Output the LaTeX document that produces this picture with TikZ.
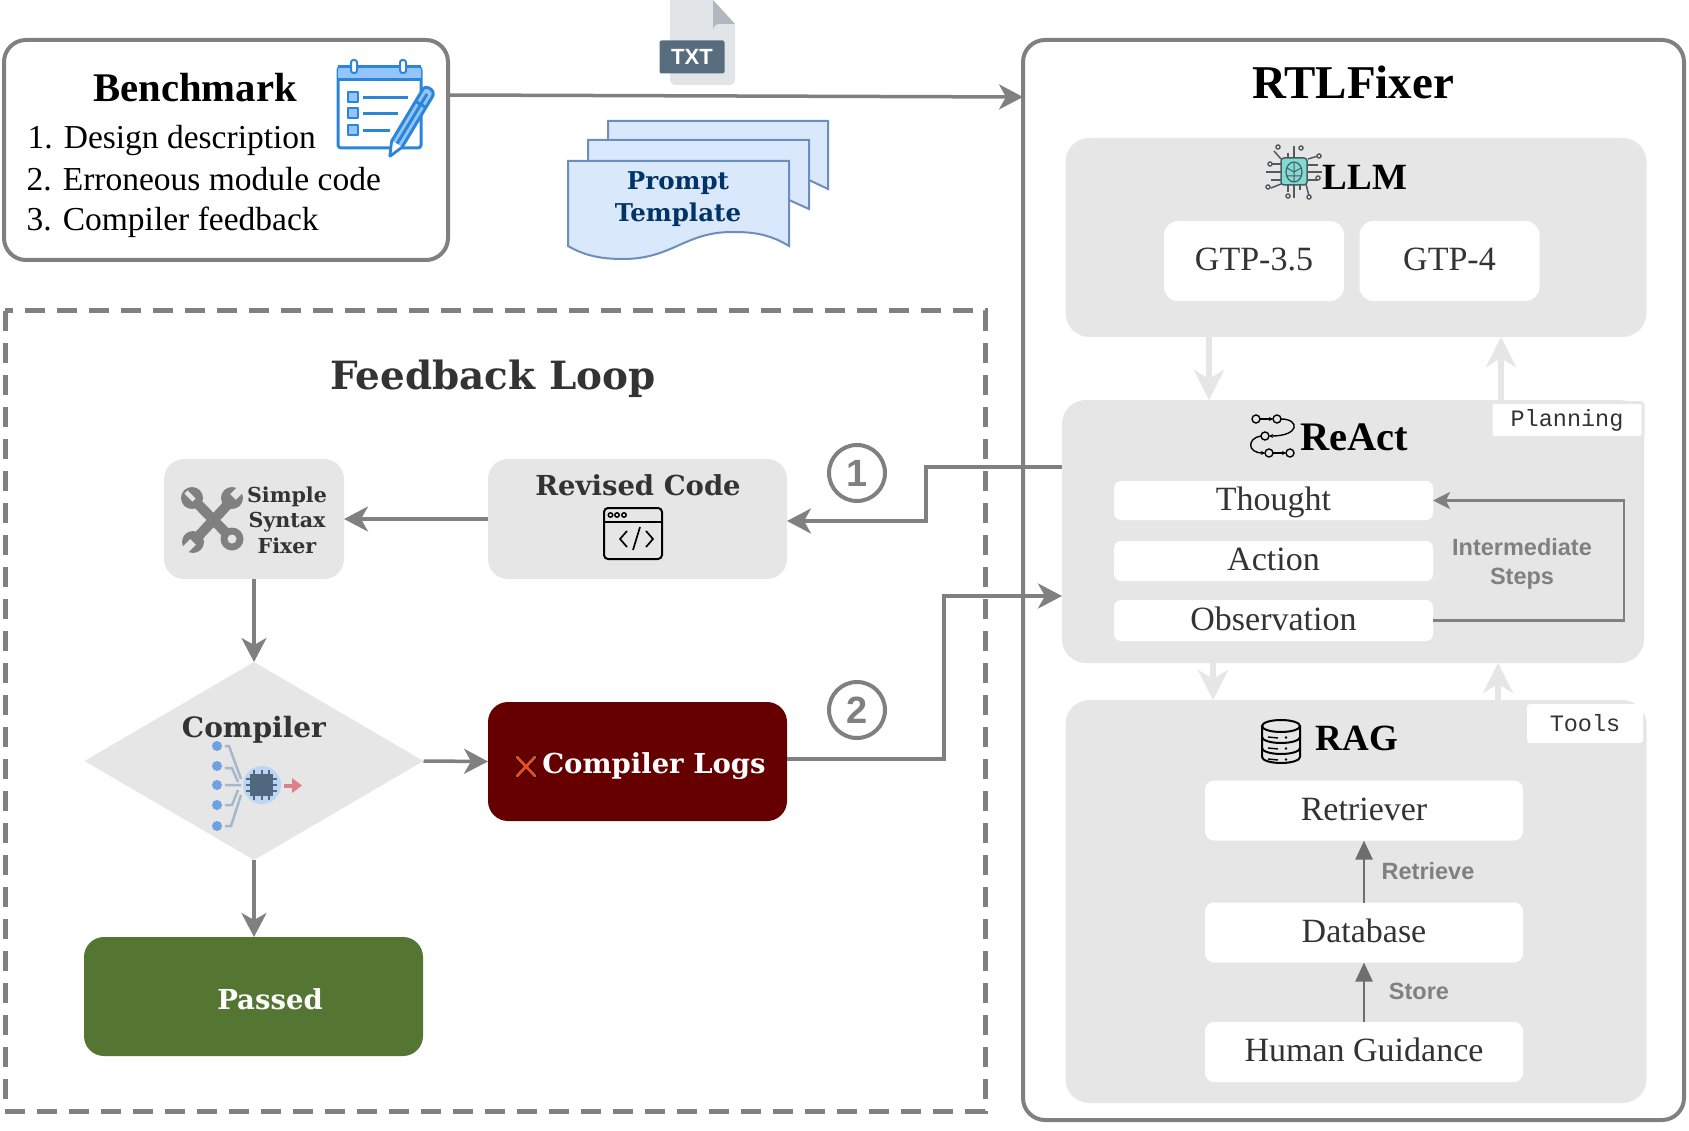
\documentclass[tikz,border=0pt]{standalone}
\usepackage{fontspec}
\setmainfont{Liberation Serif}
\setsansfont{Liberation Sans}
\setmonofont{Liberation Mono}
\newfontfamily\widefont{DejaVu Serif}
\usetikzlibrary{arrows.meta,shapes.geometric,calc}
\definecolor{ln}{HTML}{808080}
\definecolor{pan}{HTML}{E6E6E6}
\definecolor{txt}{HTML}{333333}
\definecolor{blu}{HTML}{2B85D8}
\definecolor{lblu}{HTML}{93C5FB}
\definecolor{HTMLa}{HTML}{DAE8FC}
\definecolor{HTMLb}{HTML}{6C8EBF}
\definecolor{HTMLc}{HTML}{E2E5E7}
\definecolor{HTMLd}{HTML}{B0B7BD}
\definecolor{HTMLe}{HTML}{576D7E}
\definecolor{HTMLf}{HTML}{003366}
\definecolor{HTMLg}{HTML}{6FA0E0}
\definecolor{HTMLh}{HTML}{A6B6CC}
\definecolor{HTMLi}{HTML}{BBD5F2}
\definecolor{HTMLj}{HTML}{4F6880}
\definecolor{HTMLk}{HTML}{E07F8C}
\definecolor{HTMLl}{HTML}{660000}
\definecolor{HTMLm}{HTML}{F0491F}
\definecolor{HTMLn}{HTML}{557533}
\definecolor{HTMLo}{HTML}{4F5B5E}
\definecolor{HTMLp}{HTML}{80DCD3}
\definecolor{HTMLq}{HTML}{6E6E6E}
\newcommand{\fsz}[2]{\fontsize{#1}{#2}\selectfont}
\tikzset{
  box/.style={rectangle,rounded corners=#1,inner sep=0pt,outer sep=0pt},
  panel/.style={box=24pt,fill=pan},
  greybox/.style={box=20pt,fill=pan},
  whitebox/.style={box=7pt,fill=white,text=txt,font=\fsz{34}{38},text height=24pt,text depth=5pt},
  tag/.style={box=3pt,fill=white,font=\ttfamily\fsz{23.5}{28},text=txt},
  outer/.style={box=22pt,draw=ln,line width=4pt,fill=white},
  flow/.style={draw=ln,line width=3.5pt,-{Stealth[length=24pt,width=25pt,inset=7pt]}},
  thin flow/.style={draw=ln,line width=2.5pt,-{Stealth[length=17pt,width=17pt,inset=4pt]}},
  pale flow/.style={draw=pan,line width=6pt,-{Stealth[length=30pt,width=30pt,inset=9pt]}},
  rag flow/.style={draw=#1,line width=2.5pt,-{Stealth[length=19pt,width=17pt,inset=0pt]}},
  wide/.style={font=\widefont\bfseries\fsz{#1}{#1},text=txt},
  head/.style={font=\bfseries\fsz{#1}{#1},text=black},
  note/.style={font=\sffamily\bfseries\fsz{23.5}{29},text=ln,align=center},
  num/.style={circle,draw=ln,line width=4pt,minimum size=56pt,inner sep=0pt,text=ln,font=\sffamily\bfseries\fsz{38}{38}},
  docs/.style={draw=HTMLb,fill=HTMLa,line width=2pt,line join=miter},
}
\begin{document}
\begin{tikzpicture}[x=1pt,y=-1pt]
\useasboundingbox (0,0) rectangle (1689,1131);
% Benchmark
\node[outer,minimum width=444pt,minimum height=220pt] (bench) at (226,150) {};
\node[head=40.7,anchor=base] (btitle) at (195,102) {Benchmark};
\node[font=\fsz{33.5}{38},anchor=base west] (b1) at (24,149) {1. Design description};
\node[font=\fsz{33.5}{38},anchor=base west] (b2) at (23,191) {2. Erroneous module code};
\node[font=\fsz{33.5}{38},anchor=base west] (b3) at (23,231) {3. Compiler feedback};
% notebook icon
\begin{scope}[line join=round]
\draw[blu,line width=3pt,fill=white,rounded corners=3pt] (338,67) rectangle (421,148);
\fill[lblu,rounded corners=3pt] (338,67) rectangle (421,80);
\draw[blu,line width=3pt] (338,67) -- (421,67) (338,80) -- (421,80);
\draw[blu,line width=2pt,fill=white,rounded corners=2.5pt] (351,60) rectangle (357,73);
\draw[blu,line width=2pt,fill=white,rounded corners=2.5pt] (400,60) rectangle (406,73);
\foreach \y/\e in {92/408,108/398,125/390}{
  \draw[blu,line width=2pt,fill=lblu] (347.5,\y) rectangle (358,\y+10);
  \draw[blu,line width=3pt] (363,\y+5.5) -- (\e,\y+5.5);
}
\draw[blu,line width=3pt,fill=lblu] (432.2,97) -- (402.2,146.9) -- (390,156) -- (391.8,140.9) -- (421.8,91) .. controls (424,83) and (437,90) .. cycle;
\draw[blu,line width=3pt] (425.2,107) -- (414.8,101) (427,94) -- (397,143.9);
\fill[white] (402.2,146.9) -- (390,156) -- (391.8,140.9) -- cycle;
\draw[blu,line width=2.5pt] (402.2,146.9) -- (390,156) -- (391.8,140.9);
\end{scope}
% TXT icon
\fill[HTMLc] (670,0) -- (713,0) -- (735,24) -- (735,80) arc (0:90:5) -- (675,85) arc (90:180:5) -- cycle;
\fill[HTMLd] (713,0) -- (735,24) -- (719,24) arc (270:180:6) -- cycle;
\node[box=2pt,fill=HTMLe,minimum width=65pt,minimum height=33pt,text=white,font=\sffamily\bfseries\fsz{22}{24}] (txticon) at (692,57) {TXT};
% Prompt template
\draw[docs] (608,121) -- (828,121) -- (828,189) -- (809,180) -- (608,180) -- cycle;
\draw[docs] (588,140) -- (809,140) -- (809,209) -- (789,200) -- (588,200) -- cycle;
\draw[docs] (568,161) -- (789,161) -- (789,246) .. controls (768,233) and (750,232) .. (732,232) .. controls (685,232) and (672,259) .. (623,259) .. controls (602,259) and (585,256) .. (568,246) -- cycle;
\node[font=\widefont\bfseries\fsz{24.5}{32},text=HTMLf,align=center,anchor=base] (prompt) at (678,222) {Prompt\\Template};
% Feedback loop
\draw[draw=ln,line width=5pt,dash pattern=on 20pt off 12pt] (5,311) rectangle (985,1111);
\node[wide=38.9,anchor=base] (fbtitle) at (493,389) {Feedback Loop};
\node[greybox,minimum width=180pt,minimum height=120pt] (fixer) at (254,519) {};
\node[greybox,minimum width=299pt,minimum height=120pt] (revised) at (637.5,519) {};
\node[wide=27.5,anchor=base] (revt) at (638,495) {Revised Code};
% browser icon
\draw[black,line width=2pt,rounded corners=4pt] (604,508) rectangle (662,559);
\draw[black,line width=2pt] (604,522) -- (662,522);
\foreach \x in {608.5,615,622}{\draw[black,line width=1.5pt] (\x+2,515) circle (2.2pt);}
\draw[black,line width=1.7pt] (627,531) -- (620,539) -- (627,547) (640,527) -- (633,550) (646,531) -- (653,539) -- (646,547);
% wrench icon
\begin{scope}[ln]
\draw[line width=10pt] (196,502) -- (232,539);
\fill (232,539) circle (11.5pt);
\fill (192,498) circle (11pt);
\fill[pan] (232,539) circle (4.5pt);
\draw[pan,line width=4.5pt] (194,500) -- (186,492);
\draw[line width=10pt] (232,500) -- (194,541);
\fill (232,498) circle (11pt);
\fill (193,542) circle (11pt);
\draw[pan,line width=8pt] (233,497) -- (241,489);
\draw[pan,line width=8pt] (193,542) -- (185,550);
\end{scope}
\node[font=\widefont\bfseries\fsz{20.6}{25.5},text=txt,align=center,anchor=base] (fixt) at (287,553) {Simple\\Syntax\\Fixer};
\node[diamond,fill=pan,inner sep=0pt,outer sep=0pt,minimum width=339pt,minimum height=198pt,aspect=1.712] (comp) at (254,761) {};
\node[wide=28,anchor=base] (compt) at (254,737) {Compiler};
% chip icon
\begin{scope}
\foreach \y in {746,766,785,805,826}{\fill[HTMLg] (217,\y) circle (5pt);}
\draw[HTMLh,line width=2.5pt] (225,746) -- (229,746) -- (241,779) (225,768) -- (232,768) -- (238,782) (225,785) -- (241,785) (225,805) -- (232,805) -- (238,790) (225,826) -- (231,826) -- (241,795);
\fill[HTMLi] (262,785) circle (19pt);
\fill[HTMLj] (250,774) rectangle (273,796);
\draw[HTMLj,line width=1.2pt] (254,770) -- (254,800) (262,770) -- (262,800) (269,770) -- (269,800) (246,779) -- (277,779) (246,785) -- (277,785) (246,791) -- (277,791);
\fill[HTMLk] (284,783.5) rectangle (293,787.5);
\fill[HTMLk] (292,778) -- (302,785.5) -- (292,793) -- cycle;
\end{scope}
\node[box=20pt,fill=HTMLl,minimum width=299pt,minimum height=119pt] (logs) at (637.5,761.5) {};
\node[font=\widefont\bfseries\fsz{27.5}{30},text=white,anchor=base] (logst) at (654,773) {Compiler Logs};
\draw[black,line width=4.5pt,line cap=round] (517,757) -- (535,776) (535,757) -- (517,776);
\draw[HTMLm,line width=3pt,line cap=round] (517,757) -- (535,776) (535,757) -- (517,776);
\node[box=20pt,fill=HTMLn,minimum width=339pt,minimum height=119pt] (pass) at (253.5,996.5) {};
\node[font=\widefont\bfseries\fsz{27.5}{30},text=white,anchor=base] (passt) at (270,1009) {Passed};
% RTLFixer
\node[outer,minimum width=661pt,minimum height=1080pt] (rtl) at (1353.5,580) {};
\node[head=47,anchor=base] (rtlt) at (1353,99) {RTLFixer};
\node[panel,minimum width=581pt,minimum height=199pt] (llm) at (1356,237.5) {};
\node[head=37,anchor=base] (llmt) at (1365,190) {LLM};
\node[whitebox,box=14pt,minimum width=180pt,minimum height=80pt] (g35) at (1254,261) {GTP-3.5};
\node[whitebox,box=14pt,minimum width=180pt,minimum height=80pt] (g4) at (1449.5,261) {GTP-4};
% llm icon
\begin{scope}[HTMLo,line width=1.5pt]
\foreach \a/\b/\c/\d in {1294/146/1294/198, 1266/172/1322/172, 1288/153/1288/160, 1300/157/1300/160, 1271/164/1282/164, 1271/180/1282/180, 1306/165/1318/165, 1306/180/1318/180, 1288/185/1288/192, 1300/185/1300/190}{\draw (\a,\b) -- (\c,\d);}
\draw (1281,159) -- (1274,151) (1308,159) -- (1318,156) (1281,184) -- (1271,188) (1306,184) -- (1309,196);
\foreach \x/\y in {1278/147,1301/148,1319/156,1270/164,1318/178,1268/187,1288/196,1309/197}{\draw[fill=white] (\x,\y) circle (2pt);}
\draw[fill=HTMLp,rounded corners=3pt] (1281,158) rectangle (1307,185);
\draw[fill=HTMLp,line width=1.2pt] (1294,172) ellipse (8pt and 10pt);
\draw[line width=1pt] (1294,162) -- (1294,182) (1287,168) -- (1294,172) -- (1301,168) (1287,176) -- (1301,176);
\end{scope}
\node[panel,minimum width=582pt,minimum height=263pt] (react) at (1353,531.5) {};
\draw[pale flow] (1209,0 |- llm.south) -- (1209,0 |- react.north);
\draw[pale flow] (1501,406) -- (1501,0 |- llm.south);
\node[tag,draw=pan,line width=3pt,minimum width=152pt,minimum height=35pt] (plan) at (1567,420) {Planning};
\node[head=40.5,anchor=base] (reactt) at (1354,450) {ReAct};
% react icon
\begin{scope}[black,line width=1.4pt]
\draw (1256,419) circle (4pt) (1277,419) circle (4pt) (1265,436) circle (4pt) (1269,453) circle (4pt) (1290,453) circle (4pt);
\draw[-{Stealth[length=4pt,width=4pt]}] (1260,419) -- (1273,419);
\draw[-{Stealth[length=4pt,width=4pt]}] (1281,419) .. controls (1300,419) and (1300,436) .. (1269,436);
\draw[-{Stealth[length=4pt,width=4pt]}] (1261,436) .. controls (1247,438) and (1247,453) .. (1265,453);
\draw[-{Stealth[length=4pt,width=4pt]}] (1273,453) -- (1286,453);
\end{scope}
\node[whitebox,minimum width=319pt,minimum height=39pt] (thought) at (1273.5,500.5) {Thought};
\node[whitebox,minimum width=319pt,minimum height=40pt] (action) at (1273.5,561) {Action};
\node[whitebox,minimum width=319pt,minimum height=41pt] (obs) at (1273.5,620.5) {Observation};
\draw[thin flow] (obs.east) -- (1624,0 |- obs.east) -- (1624,0 |- thought.east) -- (thought.east);
\node[note,anchor=base] (inter) at (1522,584) {Intermediate\\Steps};
\node[panel,minimum width=581pt,minimum height=403pt] (rag) at (1356,901.5) {};
\draw[pale flow] (1213,0 |- react.south) -- (1213,0 |- rag.north);
\draw[pale flow] (1498,0 |- rag.north) -- (1498,0 |- react.south);
\node[tag,minimum width=116pt,minimum height=39pt] (tools) at (1585,723.5) {Tools};
\node[head=37,anchor=base] (ragt) at (1357,750) {RAG};
% database icon
\begin{scope}[black,line width=2pt]
\draw (1262,726) -- (1262,757) arc (180:360:19pt and 6pt) -- (1300,726);
\draw (1281,726) ellipse (19pt and 6pt);
\draw (1262,737) arc (180:360:19pt and 6pt) (1262,748) arc (180:360:19pt and 6pt);
\foreach \y in {737,748,759}{\draw[line width=1.4pt] (1268,\y) -- (1278,\y+1); \fill (1286,\y+0.5) circle (1.3pt);}
\end{scope}
\node[whitebox,box=9pt,minimum width=318pt,minimum height=60pt] (retr) at (1364,810.5) {Retriever};
\node[whitebox,box=9pt,minimum width=318pt,minimum height=60pt] (db) at (1364,932.5) {Database};
\node[whitebox,box=9pt,minimum width=318pt,minimum height=60pt] (human) at (1364,1052) {Human Guidance};
\draw[rag flow=HTMLq] (db.north) -- (retr.south);
\draw[rag flow=HTMLq] (human.north) -- (db.south);
\node[note,anchor=base] (retl) at (1428,879) {Retrieve};
\node[note,anchor=base] (stl) at (1419,999) {Store};
% connectors
\draw[flow] (bench.east |- 0,95) -- (rtl.west |- 0,97);
\draw[flow] (revised.west) -- (fixer.east);
\draw[flow] (fixer.south) -- (comp.north);
\draw[flow] (comp.east) -- (logs.west);
\draw[flow] (comp.south) -- (comp.south |- pass.north);
\draw[flow] (logs.east |- 0,759) -- (944,759) -- (944,596) -- (react.west |- 0,596);
\draw[flow] (react.west |- 0,467) -- (926,467) -- (926,521) -- (revised.east |- 0,521);
\node[num] (n1) at (857,473) {1};
\node[num] (n2) at (857,710) {2};
\end{tikzpicture}
\end{document}
